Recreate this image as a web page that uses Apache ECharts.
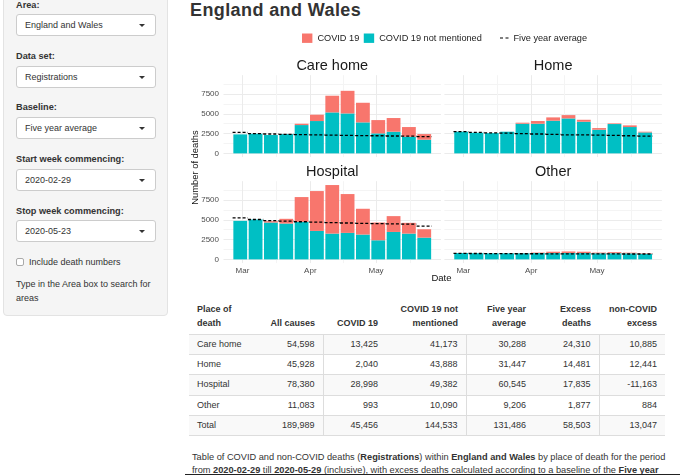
<!DOCTYPE html>
<html><head><meta charset="utf-8">
<script src="https://cdn.jsdelivr.net/npm/echarts@6/dist/echarts.min.js"></script>
<style>
html,body{margin:0;padding:0;width:680px;height:475px;overflow:hidden;background:#fff;font-family:'Liberation Sans',Arial,sans-serif;color:#333;}
.a{position:absolute;white-space:nowrap;}
#side{position:absolute;left:3px;top:-10px;width:165px;height:326px;background:#f5f5f5;border:1px solid #e3e3e3;border-radius:4px;box-sizing:border-box;}
.lab{position:absolute;left:16px;font-size:9.2px;font-weight:bold;color:#333;line-height:12px;transform:translateY(-50%);white-space:nowrap;}
.sel{position:absolute;left:16px;width:140px;height:22px;background:#fff;border:1px solid #ccc;border-radius:3px;box-sizing:border-box;}
.sel span{position:absolute;left:8px;top:50%;transform:translateY(-50%);font-size:9px;line-height:11px;color:#333;white-space:nowrap;}
.sel i{position:absolute;left:122px;top:9px;width:0;height:0;border-left:3px solid transparent;border-right:3px solid transparent;border-top:3.5px solid #333;}
.txt{position:absolute;left:16px;font-size:9px;line-height:11px;color:#333;transform:translateY(-50%);white-space:nowrap;}
#chart{position:absolute;left:0;top:0;width:680px;height:300px;z-index:2;}
#tbl{position:absolute;left:189px;top:300px;border-collapse:collapse;table-layout:fixed;font-size:9px;color:#333;}
#tbl th{font-weight:bold;vertical-align:bottom;line-height:13.6px;padding:0 8px 3px 8px;height:34px;box-sizing:border-box;border-bottom:1px solid #ddd;text-align:right;}
#tbl td{height:20.4px;padding:0 8px;box-sizing:border-box;border-bottom:1px solid #ddd;text-align:right;line-height:11px;}
#tbl th:first-child,#tbl td:first-child{text-align:left;}
#tbl tr.odd td{background:#f9f9f9;}
#tbl td.vb{border-right:1px solid #ddd;}
.cap{position:absolute;left:192px;font-size:9.2px;line-height:12px;color:#333;white-space:nowrap;transform-origin:0 50%;transform:translateY(-50%) scaleX(1.005);}
</style></head>
<body>
<div id="side"></div>
<div class="lab" style="top:5px">Area:</div>
<div class="sel" style="top:14px"><span>England and Wales</span><i></i></div>
<div class="lab" style="top:56px">Data set:</div>
<div class="sel" style="top:66px"><span>Registrations</span><i></i></div>
<div class="lab" style="top:107.3px">Baseline:</div>
<div class="sel" style="top:117.3px"><span>Five year average</span><i></i></div>
<div class="lab" style="top:159.3px">Start week commencing:</div>
<div class="sel" style="top:169px"><span>2020-02-29</span><i></i></div>
<div class="lab" style="top:210.7px">Stop week commencing:</div>
<div class="sel" style="top:220.3px"><span>2020-05-23</span><i></i></div>
<div class="a" style="left:16px;top:258.3px;width:8px;height:8px;border:1px solid #aaa;border-radius:2px;background:#fff;box-sizing:border-box;"></div>
<div class="txt" style="left:29px;top:262.3px">Include death numbers</div>
<div class="txt" style="top:284.3px">Type in the Area box to search for</div>
<div class="txt" style="top:297.7px">areas</div>

<div class="a" style="left:190px;top:-0.3px;font-size:18px;line-height:20px;font-weight:bold;color:#333;letter-spacing:0.4px;">England and Wales</div>

<div id="chart"></div>
<table id="tbl"></table>
<div class="cap" style="top:456.7px">Table of COVID and non-COVID deaths (<b>Registrations</b>) within <b>England and Wales</b> by place of death for the period</div>
<div class="cap" style="top:470px">from <b>2020-02-29</b> till <b>2020-05-29</b> (inclusive), with excess deaths calculated according to a baseline of the <b>Five year</b></div>
<div class="a" style="left:185px;top:473.5px;width:495px;height:1.5px;background:#222;"></div>

<script>
// ---------- chart data ----------
const weeks = ['2020-02-29','2020-03-07','2020-03-14','2020-03-21','2020-03-28','2020-04-04','2020-04-11','2020-04-18','2020-04-25','2020-05-02','2020-05-09','2020-05-16','2020-05-23'];
const monthTicks = ['2020-03-01','2020-03-16T12:00:00','2020-04-01','2020-04-16','2020-05-01','2020-05-16T12:00:00'];
const monthLabels = ['2020-03-01','2020-04-01','2020-05-01'];
const yTicks = [0,1250,2500,3750,5000,6250,7500,8750];
const yLabels = [0,2500,5000,7500];

const careNon = [2400,2480,2320,2440,3580,4090,5180,5050,3920,2530,2740,2100,1730];
const careCov = [0,0,0,10,170,800,2110,2860,2480,1680,1730,1230,710];
const careAvg = [2650,2500,2450,2400,2380,2350,2300,2280,2250,2230,2200,2180,2120];

const homeNon = [2740,2610,2570,2740,3750,3750,4130,4420,4000,2990,3710,3330,2650];
const homeCov = [0,0,0,0,130,340,420,420,250,210,80,210,90];
const homeAvg = [2740,2650,2600,2550,2500,2450,2400,2350,2330,2300,2270,2230,2190];

const hospNon = [4870,5040,4660,4530,4750,3600,3260,3350,3140,2415,3470,3260,2750];
const hospCov = [0,0,170,600,3130,5040,6140,4910,3260,2245,2000,1360,1060];
const hospAvg = [5250,5040,4900,4830,4760,4700,4650,4600,4560,4520,4500,4450,4200];

const otherNon = [800,780,760,760,780,800,800,810,800,770,780,760,700];
const otherCov = [0,0,0,0,30,60,170,190,170,90,130,90,60];
const otherAvg = [760,740,730,720,710,710,700,700,700,690,690,680,680];

const panelNames = ['Care home','Home','Hospital','Other'];

// ---------- table data ----------
const tblHead = [['Place of','death'],['','All causes'],['','COVID 19'],['COVID 19 not','mentioned'],['Five year','average'],['Excess','deaths'],['non-COVID','excess']];
const tblPlace = ['Care home','Home','Hospital','Other','Total'];
const tblAll = ['54,598','45,928','78,380','11,083','189,989'];
const tblCov = ['13,425','2,040','28,998','993','45,456'];
const tblNon = ['41,173','43,888','49,382','10,090','144,533'];
const tblAvg = ['30,288','31,447','60,545','9,206','131,486'];
const tblExcess = ['24,310','14,481','17,835','1,877','58,503'];
const tblNonCovExcess = ['10,885','12,441','-11,163','884','13,047'];

// build table
(function(){
  const widths=[73,61,63,80,68,65,66];
  const t=document.getElementById('tbl');
  let h='<colgroup>'+widths.map(w=>'<col style="width:'+w+'px">').join('')+'</colgroup>';
  h+='<tr>'+tblHead.map(c=>'<th>'+(c[0]?c[0]+'<br>':'')+c[1]+'</th>').join('')+'</tr>';
  const cols=[tblPlace,tblAll,tblCov,tblNon,tblAvg,tblExcess,tblNonCovExcess];
  for(let r=0;r<tblPlace.length;r++){
    h+='<tr class="'+(r%2===0?'odd':'')+'">';
    cols.forEach((c,ci)=>{ h+='<td'+((ci===1||ci===3||ci===5)?' class="vb"':'')+'>'+c[r]+'</td>'; });
    h+='</tr>';
  }
  t.innerHTML=h;
})();

// ---------- chart ----------
const DAY = 86400000;
const toTs = s => Date.parse(s.length>10 ? s+'Z' : s+'T00:00:00Z');
const T = weeks.map(toTs);
const xMin = T[0]-7.65*DAY, xMax = T[T.length-1]+7.65*DAY;
const MONTHS=['Jan','Feb','Mar','Apr','May','Jun','Jul'];
const yMin=-471, yMax=9886;

const panels = [
  {non:careNon, cov:careCov, avg:careAvg, left:223.5, top:75.2, showY:true, showX:false},
  {non:homeNon, cov:homeCov, avg:homeAvg, left:444.4, top:75.2, showY:false, showX:false},
  {non:hospNon, cov:hospCov, avg:hospAvg, left:223.5, top:181.2, showY:true, showX:true},
  {non:otherNon, cov:otherCov, avg:otherAvg, left:444.4, top:181.2, showY:false, showX:true}
];
const PW=217.5, PH=81.9;
const gridCol=['#ebebeb','#f4f4f4'];

const grid=[], xAxis=[], yAxis=[], series=[], title=[];
panels.forEach((p,i)=>{
  grid.push({left:p.left, top:p.top, width:PW, height:PH, containLabel:false});
  title.push({text:panelNames[i], left:p.left+PW/2, top:p.top-9.5, textAlign:'center', textVerticalAlign:'middle', padding:0,
    textStyle:{fontSize:14.5, fontWeight:'normal', color:'#1a1a1a', fontFamily:'Liberation Sans, Arial, sans-serif'}});
  xAxis.push({type:'value', gridIndex:i, min:xMin, max:xMax, scale:true,
    axisLine:{show:false},
    axisTick:{show:false, customValues: monthTicks.map(toTs)},
    axisLabel:{show:p.showX, customValues: monthLabels.map(toTs), formatter:v=>MONTHS[new Date(v).getUTCMonth()],
      fontSize:8, color:'#4d4d4d', margin:3.5, hideOverlap:false},
    splitLine:{show:true, lineStyle:{color:gridCol, width:1}},
  });
  yAxis.push({type:'value', gridIndex:i, min:yMin, max:yMax,
    axisLine:{show:false},
    axisTick:{show:false, customValues:yTicks},
    axisLabel:{show:p.showY, customValues:yLabels, formatter:v=>String(v), fontSize:8, color:'#4d4d4d', margin:4.5},
    splitLine:{show:true, lineStyle:{color:gridCol, width:1}}
  });
  // data rows are [deaths, week] so that the stack is computed on the deaths (y) dimension
  series.push({name:'COVID 19 not mentioned', type:'bar', xAxisIndex:i, yAxisIndex:i, stack:'s'+i, barWidth:13.8,
    encode:{x:1, y:0},
    itemStyle:{color:'#00BFC4'}, data:T.map((t,k)=>[p.non[k],t])});
  series.push({name:'COVID 19', type:'bar', xAxisIndex:i, yAxisIndex:i, stack:'s'+i, barWidth:13.8,
    encode:{x:1, y:0},
    itemStyle:{color:'#F8766D'}, data:T.map((t,k)=>[p.cov[k],t])});
  series.push({name:'Five year average', type:'custom', xAxisIndex:i, yAxisIndex:i, z:5,
    itemStyle:{color:'#000'},
    data:T.map((t,k)=>[t,p.avg[k]]),
    renderItem:(params,api)=>{
      const x=api.value(0), y=api.value(1);
      const a=api.coord([x-3.5*DAY,y]), b=api.coord([x+3.5*DAY,y]);
      return {type:'line', shape:{x1:a[0],y1:a[1],x2:b[0],y2:b[1]}, style:{stroke:'#000', lineWidth:1.3, lineDash:[3,2]}};
    }});
});

const chart = echarts.init(document.getElementById('chart'), null, {renderer:'canvas'});
chart.setOption({
  animation:false,
  textStyle:{fontFamily:'Liberation Sans, Arial, sans-serif'},
  title:title,
  legend:[
    {data:[{name:'COVID 19',icon:'rect'},{name:'COVID 19 not mentioned',icon:'rect'}], left:302, top:33.5, padding:0,
      itemWidth:10.4, itemHeight:9.4, itemGap:4.5, selectedMode:false,
      textStyle:{fontSize:9.2, color:'#222'}},
    {data:[{name:'Five year average', icon:'path://M0,0H3V1H0Z M5.5,0H8.5V1H5.5Z'}], left:500, top:33.5, padding:0,
      itemWidth:8.5, itemHeight:1.4, selectedMode:false,
      textStyle:{fontSize:9.2, color:'#222'}}
  ],
  graphic:[
    {type:'text', x:195.5, y:167.5, rotation:Math.PI/2, style:{text:'Number of deaths', fontSize:9.4, fill:'#111', align:'center', verticalAlign:'middle', fontFamily:'Liberation Sans, Arial, sans-serif'}},
    {type:'text', x:441.5, y:278.3, style:{text:'Date', fontSize:9.5, fill:'#111', align:'center', verticalAlign:'middle', fontFamily:'Liberation Sans, Arial, sans-serif'}}
  ],
  grid:grid, xAxis:xAxis, yAxis:yAxis, series:series
});
</script>
</body></html>
